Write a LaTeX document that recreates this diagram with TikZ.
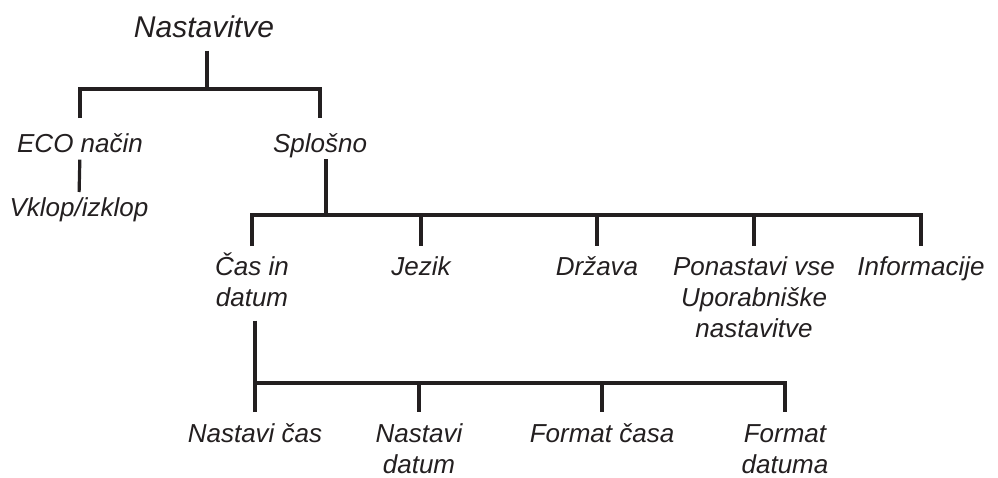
\documentclass[tikz,border=0pt]{standalone}
\usepackage{fontspec}
\setmainfont{Liberation Sans}
\usepackage{xcolor}
\definecolor{inkgray}{RGB}{35,31,32}
\usepackage{tikz}
\tikzset{
  menuitem/.style={rectangle, inner sep=0pt, anchor=north, align=center,
    text=inkgray, font=\itshape\fontsize{26}{31}\selectfont, text height=19pt},
  twolines/.style={text height=50pt},
  threelines/.style={text height=81pt},
  branch/.style={line width=3.2pt, draw=inkgray},
}
\begin{document}
\begin{tikzpicture}[x=1pt, y=-1pt,
  menutitle/.style={menuitem, font=\itshape\fontsize{30}{36}\selectfont, text height=21pt}
]
\useasboundingbox (0,0) rectangle (998,477);

\node[menutitle] (NA) at (204,16)  {Nastavitve};

\node[menuitem]  (ECO) at (80,133)  {ECO način};
\node[menuitem]  (SP)  at (320,133) {Splošno};
\node[menuitem]  (VK)  at (79,197)  {Vklop/izklop};

\node[menuitem, twolines]   (CD) at (252,256) {Čas in\\datum};
\node[menuitem]             (JE) at (421,256) {Jezik};
\node[menuitem]             (DR) at (597,256) {Država};
\node[menuitem, threelines] (PO) at (754,256) {Ponastavi vse\\Uporabniške\\nastavitve};
\node[menuitem]             (IN) at (921,256) {Informacije};

\node[menuitem]           (NC) at (255,423) {Nastavi čas};
\node[menuitem, twolines] (ND) at (419,423) {Nastavi\\datum};
\node[menuitem]           (FC) at (602,423) {Format časa};
\node[menuitem, twolines] (FD) at (785,423) {Format\\datuma};

% level 1
\coordinate (J1) at (207,89);
\draw[branch, shorten <=13pt] (NA.south -| J1) -- (J1);
\draw[branch, shorten <=15pt, shorten >=15pt] (ECO.north) |- (J1) -| (SP.north);
\draw[branch, shorten <=7pt, shorten >=5pt] (ECO.south) -- (VK.north);

% level 2
\coordinate (J2) at (326,215);
\draw[branch, shorten <=1.5pt] (SP.south -| J2) -- (J2);
\draw[branch, shorten <=10pt, shorten >=10pt] (CD.north) |- (J2) -| (IN.north);
\draw[branch, shorten >=10pt] (JE.north |- J2) -- (JE.north);
\draw[branch, shorten >=10pt] (DR.north |- J2) -- (DR.north);
\draw[branch, shorten >=10pt] (PO.north |- J2) -- (PO.north);

% level 3
\coordinate (J3) at (255,383);
\draw[branch, shorten <=14pt] (CD.south -| J3) -- (J3);
\draw[branch, shorten <=11pt, shorten >=11pt] (NC.north) |- (J3) -| (FD.north);
\draw[branch, shorten >=11pt] (ND.north |- J3) -- (ND.north);
\draw[branch, shorten >=11pt] (FC.north |- J3) -- (FC.north);

\end{tikzpicture}
\end{document}
